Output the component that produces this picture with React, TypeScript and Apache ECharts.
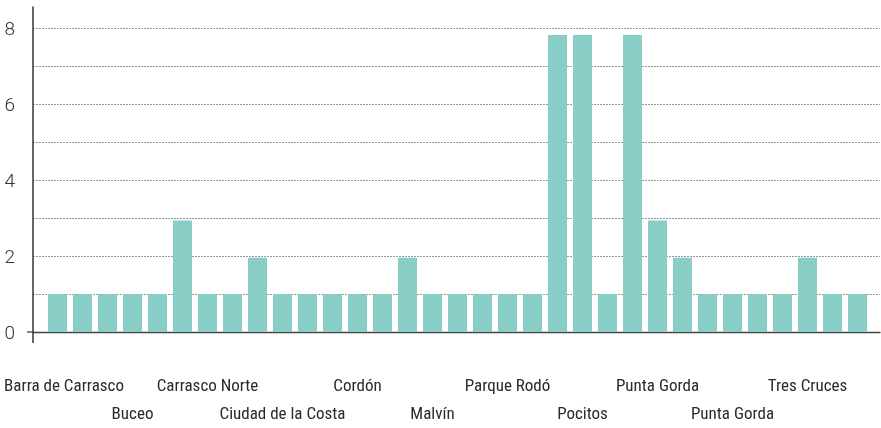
import React, { useEffect, useRef } from "react";
import * as echarts from "echarts";

const categories: string[] = [
  "Barra de Carrasco", "Barrio Sur", "Belvedere",
  "Buceo", "Carrasco", "Carrasco",
  "Carrasco Norte", "Centro", "Cerrito",
  "Ciudad de la Costa", "Ciudad Vieja", "Cordón",
  "Cordón", "La Blanqueada", "Malvín",
  "Malvín", "Malvín Norte", "Palermo",
  "Parque Rodó", "Pocitos", "Pocitos",
  "Pocitos", "Pocitos Nuevo", "Punta Carretas",
  "Punta Gorda", "Punta Gorda", "Punta Gorda",
  "Punta Gorda", "Punta Gorda", "Tres Cruces",
  "Tres Cruces", "Unión", "Villa Biarritz",
];

const values: number[] = [
  1, 1, 1, 1, 1, 2.94, 1, 1, 1.96, 1, 1,
  1, 1, 1, 1.96, 1, 1, 1, 1, 1, 7.83, 7.83,
  1, 7.83, 2.94, 1.96, 1, 1, 1, 1, 1.96, 1, 1,
];

const yTicks: number[] = [0, 2, 4, 6, 8];

export default function App() {
  const ref = useRef<HTMLDivElement>(null);
  useEffect(() => {
    if (!ref.current) return;
    const chart = echarts.init(ref.current, undefined, { renderer: "svg" });
    const yMax = 8.567;
    const textColor = "#2a2a2a";
    const labelFont = {
      color: textColor,
      fontFamily: "'Roboto Condensed', Roboto, sans-serif",
      fontWeight: 400,
      fontSize: 17,
      hideOverlap: false,
    };
    const catAxisBase = {
      gridIndex: 1,
      type: "category",
      position: "bottom",
      data: categories,
      axisLine: { show: false, onZero: false },
      axisTick: { show: false },
      splitLine: { show: false },
    };
    chart.setOption({
      animation: false,
      grid: [
        { left: 33, right: 1, top: 7, bottom: 96, outerBoundsMode: "none", containLabel: false },
        { left: 45, right: 11, top: 7, bottom: 96, outerBoundsMode: "none", containLabel: false },
      ],
      xAxis: [
        {
          gridIndex: 0,
          type: "value",
          min: 0,
          max: 1,
          axisLine: { show: true, lineStyle: { color: "#444", width: 1.3 } },
          axisTick: { show: false },
          axisLabel: { show: false },
          splitLine: { show: false },
        },
        {
          ...catAxisBase,
          axisLabel: {
            ...labelFont,
            interval: (index: number) => index % 6 === 0,
            margin: 44,
            formatter: (value: string, index: number) =>
              index === 0 ? "{first|" + value + "}" : value,
            rich: { first: { ...labelFont, padding: [0, 0, 0, 13] } },
          },
        },
        {
          ...catAxisBase,
          axisLabel: {
            ...labelFont,
            interval: (index: number) => index % 6 === 3,
            margin: 72,
          },
        },
      ],
      yAxis: [
        {
          gridIndex: 0,
          type: "value",
          min: 0,
          max: yMax,
          interval: 1,
          axisLine: { show: true, lineStyle: { color: "#333", width: 1.5 } },
          axisTick: { show: false },
          axisLabel: {
            margin: 18,
            color: "#333",
            fontFamily: "Roboto, sans-serif",
            fontWeight: 300,
            fontSize: 19,
            formatter: (v: number) => (yTicks.indexOf(v) >= 0 ? String(v) : ""),
          },
          splitLine: {
            show: true,
            showMinLine: false,
            showMaxLine: false,
            lineStyle: { color: "#999", width: 1, type: [2, 1] },
          },
        },
        {
          gridIndex: 1,
          type: "value",
          min: 0,
          max: yMax,
          show: false,
          splitLine: { show: false },
        },
      ],
      graphic: [
        {
          type: "line",
          shape: { x1: 33, y1: 332, x2: 33, y2: 343 },
          style: { stroke: "#333", lineWidth: 1.5 },
          silent: true,
        },
        {
          type: "line",
          shape: { x1: 27, y1: 332, x2: 33, y2: 332 },
          style: { stroke: "#444", lineWidth: 1.3 },
          silent: true,
        },
      ],
      series: [
        {
          type: "bar",
          xAxisIndex: 1,
          yAxisIndex: 1,
          data: values,
          barWidth: 19,
          itemStyle: { color: "#89cdc7" },
        },
      ],
    });
    return () => chart.dispose();
  }, []);
  return (
    <div
      ref={ref}
      style={{ position: "fixed", left: 0, top: 0, width: 881, height: 428 }}
    />
  );
}
